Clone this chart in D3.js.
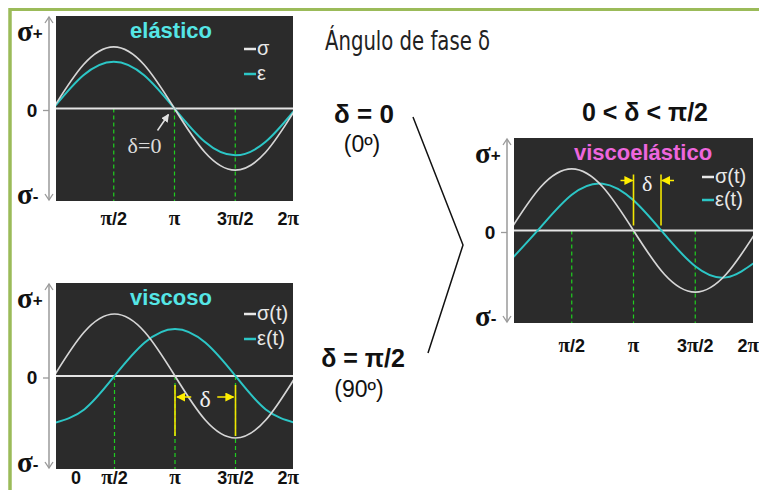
<!DOCTYPE html>
<html>
<head>
<meta charset="utf-8">
<script src="https://cdn.jsdelivr.net/npm/d3@7/dist/d3.min.js"></script>
<style>
  html, body { margin: 0; padding: 0; background: #fff; }
  svg { display: block; }
</style>
</head>
<body>
<svg id="chart" width="759" height="490"></svg>
<script>
// Phase positions (one full cycle) and their labels
const phaseTicks = [0, Math.PI / 2, Math.PI, 3 * Math.PI / 2, 2 * Math.PI];
const phaseLabels = ["0", "π/2", "π", "3π/2", "2π"];

// Samples every π/4 over one cycle
const samplePhase = [0, 1, 2, 3, 4, 5, 6, 7, 8].map(k => k * Math.PI / 4);
const stress = [0, 0.71, 1, 0.71, 0, -0.71, -1, -0.71, 0];
const strainElastic = [0, 0.54, 0.76, 0.54, 0, -0.54, -0.76, -0.54, 0];
const strainViscous = [-0.76, -0.54, 0, 0.54, 0.76, 0.54, 0, -0.54, -0.76];
const strainViscoelastic = [-0.49, 0.06, 0.58, 0.76, 0.49, -0.06, -0.58, -0.76, -0.49];

// Phase lag marked between stress and strain zero crossings
const lagViscous = Math.PI / 2;
const lagViscoelastic = 0.7;

const svg = d3.select("#chart");
const SANS = "'Liberation Sans', Arial, sans-serif";
const SERIF = "'Liberation Serif', 'Times New Roman', serif";
const GREEN = "#9bbb59";

// outer frame
svg.append("line").attr("x1", 9).attr("x2", 759).attr("y1", 9.5).attr("y2", 9.5)
  .attr("stroke", GREEN).attr("stroke-width", 3);
svg.append("line").attr("x1", 10).attr("x2", 10).attr("y1", 8).attr("y2", 490)
  .attr("stroke", GREEN).attr("stroke-width", 3.5);

const defs = svg.append("defs");
function marker(id, color, size) {
  defs.append("marker").attr("id", id).attr("viewBox", "0 0 10 10")
    .attr("refX", 9).attr("refY", 5).attr("markerWidth", size).attr("markerHeight", size)
    .attr("orient", "auto-start-reverse").attr("markerUnits", "userSpaceOnUse")
    .append("path").attr("d", "M0,0 L10,5 L0,10 z").attr("fill", color);
}
marker("headWhite", "#e0e0e0", 8);
marker("headYellow", "#ffee00", 9);

const panels = [
  { id: "p1", left: 56, right: 293, top: 16, bottom: 201, range: [53, 296],
    title: "elástico", titleColor: "#55e6e6", titleX: 171,
    strain: strainElastic, legend: ["σ", "ε"], legendX: 244, legendY: [49, 74],
    tickLabelDy: 24, showZeroLabel: false },
  { id: "p2", left: 56, right: 293, top: 283, bottom: 469, range: [54, 296],
    title: "viscoso", titleColor: "#55e6e6", titleX: 171,
    strain: strainViscous, legend: ["σ(t)", "ε(t)"], legendX: 244, legendY: [314, 339],
    tickLabelDy: 15, showZeroLabel: true },
  { id: "p3", left: 514, right: 753, top: 138, bottom: 323, range: [510, 757],
    title: "viscoelástico", titleColor: "#ee66dd", titleX: 643,
    strain: strainViscoelastic, legend: ["σ(t)", "ε(t)"], legendX: 702, legendY: [177, 200],
    tickLabelDy: 29, showZeroLabel: false }
];

panels.forEach(p => {
  const x = d3.scaleLinear().domain([0, 2 * Math.PI]).range(p.range);
  const y = d3.scaleLinear().domain([-1.5, 1.5]).range([p.bottom, p.top]);
  p.x = x; p.y = y;
  const g = svg.append("g");

  defs.append("clipPath").attr("id", "clip-" + p.id)
    .append("rect").attr("x", p.left).attr("y", p.top)
    .attr("width", p.right - p.left).attr("height", p.bottom - p.top);

  g.append("rect").attr("x", p.left).attr("y", p.top)
    .attr("width", p.right - p.left).attr("height", p.bottom - p.top)
    .attr("fill", "#2b2b2b");

  // vertical stress axis with arrowheads at both ends
  const ax = p.left - 7;
  g.append("line").attr("x1", ax).attr("x2", ax).attr("y1", p.top + 1).attr("y2", p.bottom - 1)
    .attr("stroke", "#9a9a9a").attr("stroke-width", 1.5);
  [[p.top + 1, 1], [p.bottom - 1, -1]].forEach(([yy, s]) => {
    g.append("path")
      .attr("d", `M${ax - 4},${yy + s * 6} L${ax},${yy} L${ax + 4},${yy + s * 6}`)
      .attr("fill", "none").attr("stroke", "#9a9a9a").attr("stroke-width", 1.3);
  });
  g.append("line").attr("x1", ax - 6).attr("x2", ax).attr("y1", y(0) + 2).attr("y2", y(0) + 2)
    .attr("stroke", "#9a9a9a").attr("stroke-width", 1.3);

  // σ+, 0, σ- labels
  const sp = g.append("text").attr("x", p.left - 39).attr("y", p.top + 25)
    .attr("font-family", SERIF).attr("font-weight", "bold").attr("font-size", 29).attr("fill", "#111");
  sp.append("tspan").text("σ");
  sp.append("tspan").attr("font-family", SANS).attr("font-size", 17).attr("dy", -2).text("+");
  const sm = g.append("text").attr("x", p.left - 39).attr("y", p.bottom + 3)
    .attr("font-family", SERIF).attr("font-weight", "bold").attr("font-size", 29).attr("fill", "#111");
  sm.append("tspan").text("σ");
  sm.append("tspan").attr("font-family", SANS).attr("font-size", 17).attr("dy", -2).text("-");
  g.append("text").attr("x", p.left - 24).attr("y", y(0) + 8).attr("text-anchor", "middle")
    .attr("font-family", SANS).attr("font-weight", "bold").attr("font-size", 19).attr("fill", "#111")
    .text("0");

  // dashed guides at π/2, π, 3π/2
  g.selectAll(".guide").data(phaseTicks.slice(1, 4)).enter().append("line")
    .attr("x1", d => x(d)).attr("x2", d => x(d))
    .attr("y1", y(0)).attr("y2", p.bottom)
    .attr("stroke", "#1fcf1f").attr("stroke-width", 1.2).attr("stroke-dasharray", "4,3");

  // zero line
  g.append("line").attr("x1", p.left).attr("x2", p.right).attr("y1", y(0)).attr("y2", y(0))
    .attr("stroke", "#e4e4e4").attr("stroke-width", 2);

  // stress and strain curves
  const line = d3.line().x(d => x(d[0])).y(d => y(d[1])).curve(d3.curveNatural);
  const curves = g.append("g").attr("clip-path", `url(#clip-${p.id})`);
  curves.append("path").datum(samplePhase.map((t, i) => [t, p.strain[i]]))
    .attr("d", line).attr("fill", "none").attr("stroke", "#2cc6c6").attr("stroke-width", 2);
  curves.append("path").datum(samplePhase.map((t, i) => [t, stress[i]]))
    .attr("d", line).attr("fill", "none").attr("stroke", "#d6d6d6").attr("stroke-width", 1.7);

  // title
  g.append("text").attr("x", p.titleX).attr("y", p.top + 22).attr("text-anchor", "middle")
    .attr("font-family", SANS).attr("font-weight", "bold").attr("font-size", 22)
    .attr("fill", p.titleColor).text(p.title);

  // legend
  const colors = ["#e8e8e8", "#2cc6c6"];
  p.legend.forEach((lab, i) => {
    const ly = p.legendY[i];
    g.append("line").attr("x1", p.legendX).attr("x2", p.legendX + 12).attr("y1", ly).attr("y2", ly)
      .attr("stroke", colors[i]).attr("stroke-width", 2.5);
    g.append("text").attr("x", p.legendX + 13).attr("y", ly + 6)
      .attr("font-family", SANS).attr("font-size", 20).attr("fill", "#e8e8e8").text(lab);
  });

  // phase tick labels
  const labs = g.append("g").attr("font-family", SANS).attr("font-weight", "bold")
    .attr("font-size", 18).attr("fill", "#111");
  phaseTicks.forEach((t, i) => {
    if (i === 0 && !p.showZeroLabel) return;
    let lx = x(t), anchor = "middle";
    if (i === 0) { lx = x(t) + 22; }
    if (i === 4) { lx = p.right + 6; anchor = "end"; }
    const txt = labs.append("text").attr("x", lx).attr("y", p.bottom + p.tickLabelDy)
      .attr("text-anchor", anchor);
    const s = phaseLabels[i];
    s.split(/(π)/).filter(Boolean).forEach(part => {
      const ts = txt.append("tspan").text(part);
      if (part === "π") ts.attr("font-family", SERIF).attr("font-size", 21);
    });
  });
});

// elastic: δ = 0 marker at the common zero crossing
{
  const p = panels[0];
  const cx = p.x(Math.PI), cy = p.y(0);
  svg.append("line").attr("x1", cx - 17).attr("y1", cy + 22).attr("x2", cx - 6).attr("y2", cy + 6)
    .attr("stroke", "#e0e0e0").attr("stroke-width", 1.5).attr("marker-end", "url(#headWhite)");
  svg.append("text").attr("x", cx - 30).attr("y", cy + 44).attr("text-anchor", "middle")
    .attr("font-family", SERIF).attr("font-size", 22).attr("fill", "#dcdcdc").text("δ=0");
}

// viscous: δ between σ and ε zero crossings, arrows pointing outward
{
  const p = panels[1];
  const xa = p.x(Math.PI), xb = p.x(Math.PI + lagViscous), y0 = p.y(0);
  [xa, xb].forEach(xx => svg.append("line").attr("x1", xx).attr("x2", xx)
    .attr("y1", y0 + 9).attr("y2", y0 + 60).attr("stroke", "#f2e600").attr("stroke-width", 1.6));
  const ay = y0 + 21, mid = (xa + xb) / 2;
  svg.append("line").attr("x1", mid - 14).attr("x2", xa + 2).attr("y1", ay).attr("y2", ay)
    .attr("stroke", "#ffee00").attr("stroke-width", 1.5).attr("marker-end", "url(#headYellow)");
  svg.append("line").attr("x1", mid + 12).attr("x2", xb - 2).attr("y1", ay).attr("y2", ay)
    .attr("stroke", "#ffee00").attr("stroke-width", 1.5).attr("marker-end", "url(#headYellow)");
  svg.append("text").attr("x", mid).attr("y", ay + 10).attr("text-anchor", "middle")
    .attr("font-family", SERIF).attr("font-size", 24).attr("fill", "#f0f0f0").text("δ");
}

// viscoelastic: δ between zero crossings, arrows pointing inward
{
  const p = panels[2];
  const xa = p.x(Math.PI), xb = p.x(Math.PI + lagViscoelastic), y0 = p.y(0);
  [xa, xb].forEach(xx => svg.append("line").attr("x1", xx).attr("x2", xx)
    .attr("y1", y0 - 56).attr("y2", y0 - 5).attr("stroke", "#f2e600").attr("stroke-width", 1.6));
  const ay = y0 - 50, mid = (xa + xb) / 2;
  svg.append("line").attr("x1", xa - 13).attr("x2", xa - 1).attr("y1", ay).attr("y2", ay)
    .attr("stroke", "#ffee00").attr("stroke-width", 1.5).attr("marker-end", "url(#headYellow)");
  svg.append("line").attr("x1", xb + 13).attr("x2", xb + 1).attr("y1", ay).attr("y2", ay)
    .attr("stroke", "#ffee00").attr("stroke-width", 1.5).attr("marker-end", "url(#headYellow)");
  svg.append("text").attr("x", mid).attr("y", ay + 10).attr("text-anchor", "middle")
    .attr("font-family", SERIF).attr("font-size", 22).attr("fill", "#f0f0f0").text("δ");
}

// headings and case labels
svg.append("text").attr("x", 325).attr("y", 50).attr("textLength", 165).attr("lengthAdjust", "spacingAndGlyphs")
  .attr("font-family", "'Liberation Sans Narrow', 'DejaVu Sans Condensed', sans-serif")
  .attr("font-size", 26).attr("fill", "#222").text("Ángulo de fase δ");

svg.append("text").attr("x", 645).attr("y", 121).attr("text-anchor", "middle")
  .attr("font-family", SANS).attr("font-weight", "bold").attr("font-size", 25).attr("fill", "#111")
  .text("0 < δ < π/2");

svg.append("text").attr("x", 364).attr("y", 123).attr("text-anchor", "middle")
  .attr("font-family", SANS).attr("font-weight", "bold").attr("font-size", 26).attr("fill", "#111")
  .text("δ = 0");
svg.append("text").attr("x", 362).attr("y", 152).attr("text-anchor", "middle")
  .attr("font-family", SANS).attr("font-size", 23).attr("fill", "#111").text("(0º)");
svg.append("text").attr("x", 363).attr("y", 367).attr("text-anchor", "middle")
  .attr("font-family", SANS).attr("font-weight", "bold").attr("font-size", 25).attr("fill", "#111")
  .text("δ = π/2");
svg.append("text").attr("x", 359).attr("y", 397).attr("text-anchor", "middle")
  .attr("font-family", SANS).attr("font-size", 23).attr("fill", "#111").text("(90º)");

// bracket joining the two limiting cases
svg.append("path").attr("d", "M413,117 L463,245 L428,353")
  .attr("fill", "none").attr("stroke", "#111").attr("stroke-width", 1.5);
</script>
</body>
</html>
